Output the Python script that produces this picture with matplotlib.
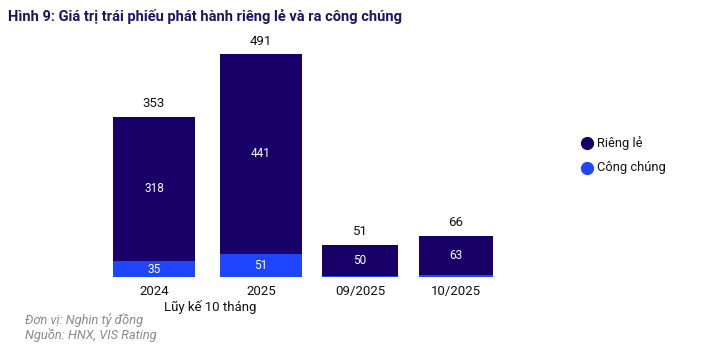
import matplotlib.pyplot as plt
from matplotlib.lines import Line2D
import numpy as np

plt.rcParams['font.family'] = ['Roboto', 'DejaVu Sans']

categories = ['2024', '2025', '09/2025', '10/2025']
rieng_le = [318, 441, 50, 63]
cong_chung = [35, 51, 1, 3]
totals = [353, 491, 51, 66]
show_cc_label = [True, True, False, False]
# first two bars are cumulative (left scale), the monthly ones use their own scale
on_month_axis = [False, False, True, True]

navy = '#170068'
blue = '#1f45ff'

fig = plt.figure(figsize=(7.18, 3.52), dpi=100)
rect = [100 / 718, 75 / 352, 410 / 718, 237 / 352]
ax = fig.add_axes(rect)
ax2 = fig.add_axes(rect, sharex=ax)
ax2.patch.set_visible(False)

x = np.array([0, 1.04, 2.0, 2.93])
widths = [0.8, 0.8, 0.73, 0.72]

for xi, w, rl, cc, tot, show, m in zip(x, widths, rieng_le, cong_chung, totals,
                                         show_cc_label, on_month_axis):
    a = ax2 if m else ax
    off = 11 if m else 14
    a.bar(xi, cc, width=w, color=blue)
    a.bar(xi, rl, width=w, bottom=cc, color=navy)
    a.text(xi, cc + rl / 2, str(rl), ha='center', va='center', color='white', fontsize=8.5)
    if show:
        a.text(xi, cc / 2, str(cc), ha='center', va='center', color='white', fontsize=8.5)
    a.text(xi, tot + off, str(tot), ha='center', va='bottom', color='#111111', fontsize=9.5)

ax.set_xlim(-0.524, 3.456)
ax.set_ylim(0, 522)
ax2.set_ylim(0, 379)
ax.set_xticks(x)
ax.set_xticklabels(categories, fontsize=9.5, color='#111111')
ax.tick_params(length=0, pad=6)
ax2.tick_params(length=0, labelbottom=False)
for a in (ax, ax2):
    a.set_yticks([])
    for s in a.spines.values():
        s.set_visible(False)

fig.text(210 / 718, 1 - 307 / 352, 'Lũy kế 10 tháng', ha='center', va='center', fontsize=9.5, color='#111111')

# legend
leg_items = [('Riêng lẻ', navy, 143), ('Công chúng', blue, 168)]
for label, col, yp in leg_items:
    fig.add_artist(Line2D([587 / 718], [1 - yp / 352], marker='o', markersize=8.5,
                          color=col, linestyle='none', transform=fig.transFigure))
    fig.text(597 / 718, 1 - yp / 352, label, ha='left', va='center', fontsize=9.3, color='#111111')

fig.text(8 / 718, 1 - 17 / 352, 'Hình 9: Giá trị trái phiếu phát hành riêng lẻ và ra công chúng',
         ha='left', va='center', fontsize=10.5, fontweight='bold', color='#1a1464')

fig.text(25 / 718, 1 - 320 / 352, 'Đơn vị: Nghin tỷ đồng', ha='left', va='center',
         fontsize=9.3, style='italic', color='#8a8a8a')
fig.text(25 / 718, 1 - 335 / 352, 'Nguồn: HNX, VIS Rating', ha='left', va='center',
         fontsize=9.3, style='italic', color='#8a8a8a')

fig.savefig('out.png', dpi=100)
